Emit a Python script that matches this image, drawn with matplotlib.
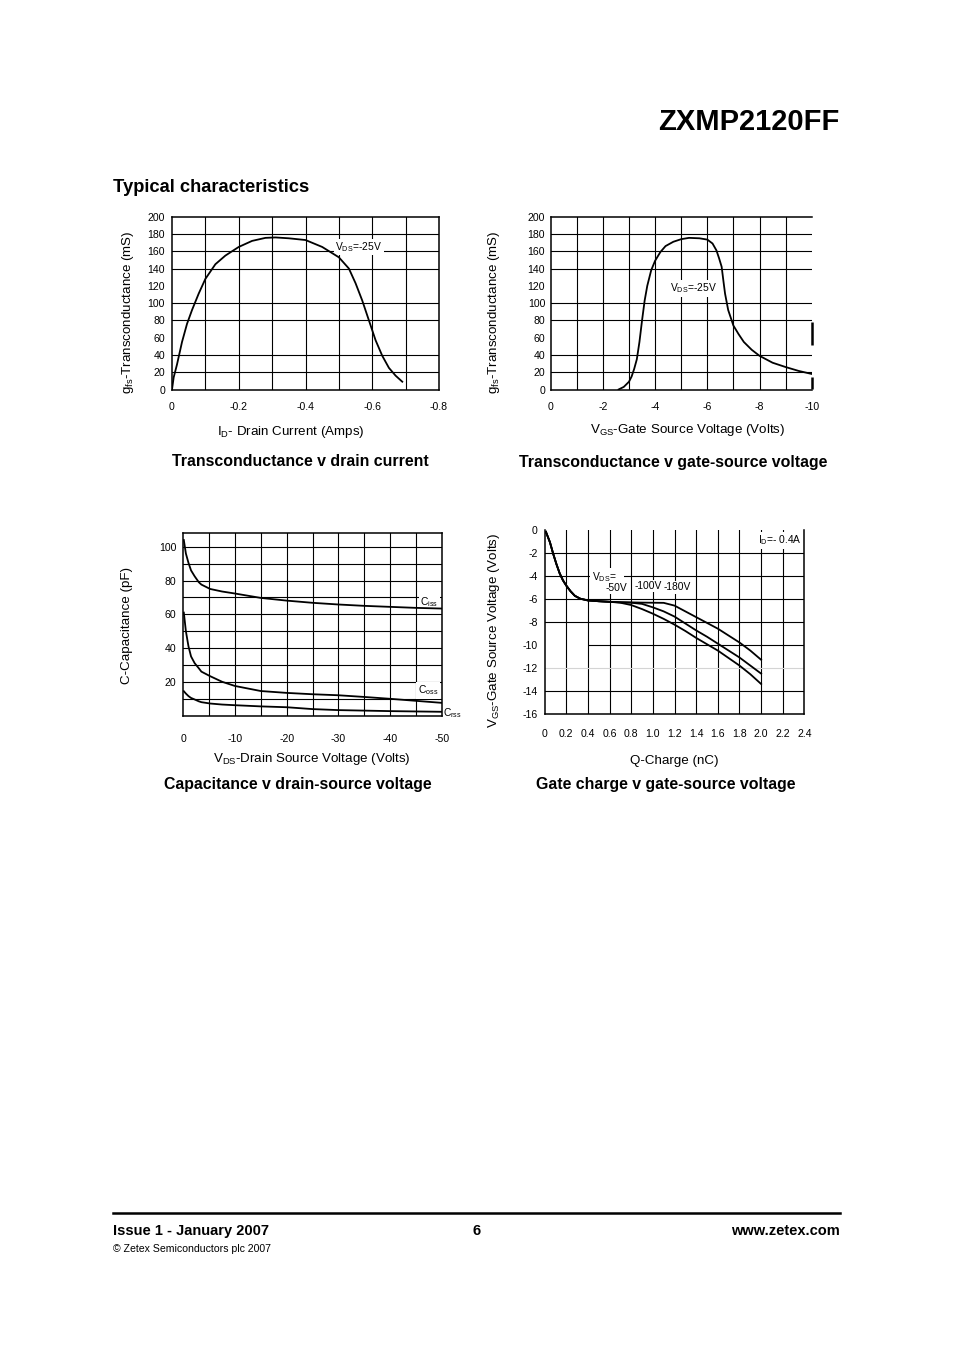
import matplotlib
matplotlib.use("Agg")
import matplotlib.pyplot as plt

plt.rcParams['font.family'] = ['Liberation Sans', 'DejaVu Sans']
plt.rcParams['mathtext.fontset'] = 'custom'
plt.rcParams['mathtext.rm'] = 'Liberation Sans'
plt.rcParams['mathtext.it'] = 'Liberation Sans:italic'
plt.rcParams['mathtext.bf'] = 'Liberation Sans:bold'
plt.rcParams['axes.unicode_minus'] = False

# --- transconductance v drain current
id_amps = [0, -0.005, -0.015, -0.03, -0.045, -0.06, -0.08, -0.1, -0.13, -0.16, -0.2, -0.24,
           -0.28, -0.31, -0.35, -0.4, -0.45, -0.5, -0.53, -0.55, -0.57, -0.59, -0.61, -0.63,
           -0.65, -0.67, -0.69]
gfs_id = [0, 14, 29, 55, 76, 92, 111, 128, 145, 155, 165, 172, 175.5, 176, 175, 173, 165,
          153, 140, 123, 103, 80, 57, 39, 25, 16, 9]

# --- transconductance v gate-source voltage
vgs = [-2.6, -2.8, -3.0, -3.1, -3.2, -3.3, -3.4, -3.5, -3.6, -3.7, -3.85, -4.0, -4.2, -4.4,
       -4.7, -5.0, -5.3, -5.7, -6.0, -6.2, -6.35, -6.45, -6.55, -6.62, -6.68, -6.8, -7.0,
       -7.2, -7.4, -7.7, -8.0, -8.5, -9.0, -9.5, -10]
gfs_vgs = [0, 3, 9, 15, 24, 35, 55, 80, 103, 120, 138, 149, 159, 166, 171, 174, 175.5, 175,
           173.5, 169, 161, 152, 142, 125, 111, 92, 74, 64, 55, 46, 39, 31, 26, 21.5, 18]

# --- capacitance v drain-source voltage
vds = [-0.1, -0.5, -1, -1.5, -2.2, -3, -3.5, -5.2, -7.5, -10, -15, -20, -25, -30, -35, -40, -45, -50]
ciss = [104, 96, 90.5, 86, 82.5, 79, 77.6, 75, 73.5, 72.3, 69.7, 68.1, 66.8, 65.8, 65, 64.4, 63.8, 63.4]
coss = [61, 50, 41, 35, 31, 28, 26, 23.3, 20, 17.5, 14.5, 13.4, 12.6, 12, 11, 9.9, 8.7, 7.5]
crss = [14.4, 13, 11.5, 10.4, 9.5, 8.4, 7.9, 7.1, 6.5, 6.1, 5.4, 4.9, 3.8, 3.2, 2.9, 2.6, 2.4, 2.2]

# --- gate charge v gate-source voltage
q_nc = [0.013, 0.05, 0.08, 0.11, 0.14, 0.17, 0.2, 0.24, 0.28, 0.33, 0.4, 0.5, 0.6, 0.7,
        0.8, 0.9, 1.0, 1.1, 1.2, 1.3, 1.4, 1.5, 1.6, 1.7, 1.8, 1.9, 2.0]
vg_50 = [-0.2, -1.1, -2.1, -3.0, -3.8, -4.4, -4.85, -5.35, -5.75, -6.0, -6.15, -6.22, -6.27,
         -6.35, -6.55, -6.9, -7.3, -7.75, -8.25, -8.8, -9.4, -9.95, -10.5, -11.15, -11.8, -12.55, -13.4]
vg_100 = [-0.2, -1.1, -2.1, -3.0, -3.8, -4.4, -4.85, -5.35, -5.75, -6.0, -6.15, -6.22, -6.27,
          -6.32, -6.35, -6.45, -6.75, -7.1, -7.55, -8.15, -8.75, -9.3, -9.9, -10.5, -11.1, -11.8, -12.5]
vg_180 = [-0.2, -1.1, -2.1, -3.0, -3.8, -4.4, -4.85, -5.35, -5.75, -6.0, -6.15, -6.22, -6.27,
          -6.3, -6.32, -6.34, -6.35, -6.36, -6.6, -7.1, -7.6, -8.1, -8.6, -9.2, -9.8, -10.5, -11.3]

W, H = 954, 1350
fig = plt.figure(figsize=(W / 100, H / 100), dpi=100)


def ftext(x, y, s, **kw):
    kw.setdefault('va', 'center')
    fig.text(x / W, 1 - y / H, s, **kw)


def make_ax(left, top, right, bottom):
    ax = fig.add_axes([left / W, 1 - bottom / H, (right - left) / W, (bottom - top) / H])
    for sp in ax.spines.values():
        sp.set_linewidth(1.1)
        sp.set_zorder(4)
    ax.tick_params(length=0, labelsize=7.6)
    return ax


LW = 1.3
GL = 0.8
FS = 7.4
box = dict(fc='white', ec='none', pad=1.0)
grid = dict(color='black', lw=GL, zorder=1)
curve = dict(color='black', lw=LW, zorder=3)

# chart 1
ax1 = make_ax(172, 216.7, 439, 389.5)
ax1.set_xlim(0, -0.8)
ax1.set_ylim(0, 200)
for x in [-0.1, -0.2, -0.3, -0.4, -0.5, -0.6, -0.7]:
    ax1.axvline(x, **grid)
for y in [20, 40, 80, 100, 140, 160, 180]:
    ax1.axhline(y, **grid)
ax1.plot(id_amps, gfs_id, **curve)
ax1.set_xticks([0, -0.2, -0.4, -0.6, -0.8], ['0', '-0.2', '-0.4', '-0.6', '-0.8'])
ax1.set_yticks(range(0, 201, 20), [str(v) for v in range(0, 201, 20)])
ax1.tick_params(axis='x', pad=9)
ax1.tick_params(axis='y', pad=5)
ax1.text(-0.56, 165, r'V$_{\rm DS}$=-25V', fontsize=FS, ha='center', va='center', bbox=box, zorder=2)

# chart 2
ax2 = make_ax(550.7, 216.7, 811.7, 389.5)
ax2.set_xlim(0, -10)
ax2.set_ylim(0, 200)
ax2.spines['right'].set_visible(False)
for x in range(-1, -10, -1):
    ax2.axvline(x, **grid)
for y in [20, 40, 80, 100, 140, 160, 180]:
    ax2.axhline(y, **grid)
ax2.vlines([-10, -10], [52, 1], [78, 15], color='black', lw=1.8, clip_on=False)
ax2.plot(vgs, gfs_vgs, **curve)
ax2.set_xticks(range(0, -11, -2), ['0', '-2', '-4', '-6', '-8', '-10'])
ax2.set_yticks(range(0, 201, 20), [str(v) for v in range(0, 201, 20)])
ax2.tick_params(axis='x', pad=9)
ax2.tick_params(axis='y', pad=4)
ax2.text(-5.45, 117, r'V$_{\rm DS}$=-25V', fontsize=FS, ha='center', va='center', bbox=box, zorder=2)

# chart 3
ax3 = make_ax(183.3, 533.3, 441.7, 715.5)
ax3.set_xlim(0, -50)
ax3.set_ylim(0, 108)
for x in range(-5, -50, -5):
    ax3.axvline(x, **grid)
for y in range(10, 101, 10):
    ax3.axhline(y, **grid)
ax3.plot(vds, ciss, **curve)
ax3.plot(vds, coss, **curve)
ax3.plot(vds, crss, **curve)
ax3.set_xticks(range(0, -51, -10), ['0', '-10', '-20', '-30', '-40', '-50'])
ax3.set_yticks(range(20, 101, 20), [str(v) for v in range(20, 101, 20)])
ax3.tick_params(axis='x', pad=13)
ax3.tick_params(axis='y', pad=5)
ax3.text(-49.3, 67.5, r'C$_{\rm iss}$', fontsize=FS, ha='right', va='center', bbox=box, zorder=2)
ax3.text(-49.3, 15, r'C$_{\rm oss}$', fontsize=FS, ha='right', va='center', bbox=box, zorder=2)
ax3.text(-50.3, 1.5, r'C$_{\rm rss}$', fontsize=FS, ha='left', va='center', clip_on=False)

# chart 4
ax4 = make_ax(544.5, 529.5, 804.5, 714)
ax4.set_xlim(0, 2.4)
ax4.set_ylim(-16, 0)
ax4.spines['top'].set_visible(False)
for x in [0.2, 0.4, 0.6, 0.8, 1.0, 1.2, 1.4, 1.6, 1.8, 2.0, 2.2]:
    ax4.axvline(x, **grid)
for y in [-2, -4, -6, -8, -14]:
    ax4.axhline(y, **grid)
ax4.hlines(-10, 0.4, 2.4, **grid)
ax4.axhline(-12, color='#d4d4d4', lw=GL, zorder=1)
ax4.plot(q_nc, vg_50, **curve)
ax4.plot(q_nc, vg_100, **curve)
ax4.plot(q_nc, vg_180, **curve)
xt4 = [0, 0.2, 0.4, 0.6, 0.8, 1.0, 1.2, 1.4, 1.6, 1.8, 2.0, 2.2, 2.4]
ax4.set_xticks(xt4, ['0'] + ['%.1f' % v for v in xt4[1:]])
ax4.set_yticks(range(0, -17, -2), [str(v) for v in range(0, -17, -2)])
ax4.tick_params(axis='x', pad=11)
ax4.tick_params(axis='y', pad=5)
ax4.text(0.435, -4.1, r'V$_{\rm DS}$=   ', fontsize=FS, ha='left', va='center', bbox=box, zorder=2)
ax4.text(0.56, -5.05, '-50V', fontsize=FS, ha='left', va='center', bbox=box, zorder=2)
ax4.text(0.83, -4.9, '-100V', fontsize=FS, ha='left', va='center', bbox=box, zorder=2)
ax4.text(1.1, -5.0, '-180V', fontsize=FS, ha='left', va='center', bbox=box, zorder=2)
ax4.text(2.37, -0.95, r'I$_{\rm D}$=- 0.4A', fontsize=FS, ha='right', va='center', bbox=box, zorder=2)

# axis labels and captions
lab = 9.6
cap = 11.4
ftext(291, 432, r'I$_{\rm D}$- Drain Current (Amps)', fontsize=lab, ha='center')
ftext(128, 312, r'g$_{\rm fs}$-Transconductance (mS)', fontsize=lab, ha='center', rotation=90)
ftext(300, 461, 'Transconductance v drain current', fontsize=cap, ha='center', weight='bold')

ftext(688, 430, r'V$_{\rm GS}$-Gate Source Voltage (Volts)', fontsize=lab, ha='center')
ftext(494, 312, r'g$_{\rm fs}$-Transconductance (mS)', fontsize=lab, ha='center', rotation=90)
ftext(673, 462, 'Transconductance v gate-source voltage', fontsize=cap, ha='center', weight='bold')

ftext(312, 759, r'V$_{\rm DS}$-Drain Source Voltage (Volts)', fontsize=lab, ha='center')
ftext(127, 625, 'C-Capacitance (pF)', fontsize=lab, ha='center', rotation=90)
ftext(298, 784, 'Capacitance v drain-source voltage', fontsize=cap, ha='center', weight='bold')

ftext(674, 761, 'Q-Charge (nC)', fontsize=lab, ha='center')
ftext(494, 630, r'V$_{\rm GS}$-Gate Source Voltage (Volts)', fontsize=lab, ha='center', rotation=90)
ftext(666, 784, 'Gate charge v gate-source voltage', fontsize=cap, ha='center', weight='bold')

# page header / footer
narrow = ['Liberation Sans Narrow', 'Liberation Sans', 'DejaVu Sans']
ftext(840, 122, 'ZXMP2120FF', fontsize=21, ha='right', weight='bold', family=narrow)
ftext(113, 188, 'Typical characteristics', fontsize=13.2, ha='left', weight='bold', family=narrow)

fig.add_artist(plt.Line2D([113 / W, 840 / W], [1 - 1213 / H, 1 - 1213 / H], color='black', lw=1.8))
ftext(113, 1231, 'Issue 1 - January 2007', fontsize=10.5, ha='left', weight='bold', family=narrow)
ftext(477, 1231, '6', fontsize=10.5, ha='center', weight='bold', family=narrow)
ftext(840, 1231, 'www.zetex.com', fontsize=10.5, ha='right', weight='bold', family=narrow)
ftext(113, 1249, '\u00a9 Zetex Semiconductors plc 2007', fontsize=7.6, ha='left', family=narrow)

fig.savefig('out.png', dpi=100)
